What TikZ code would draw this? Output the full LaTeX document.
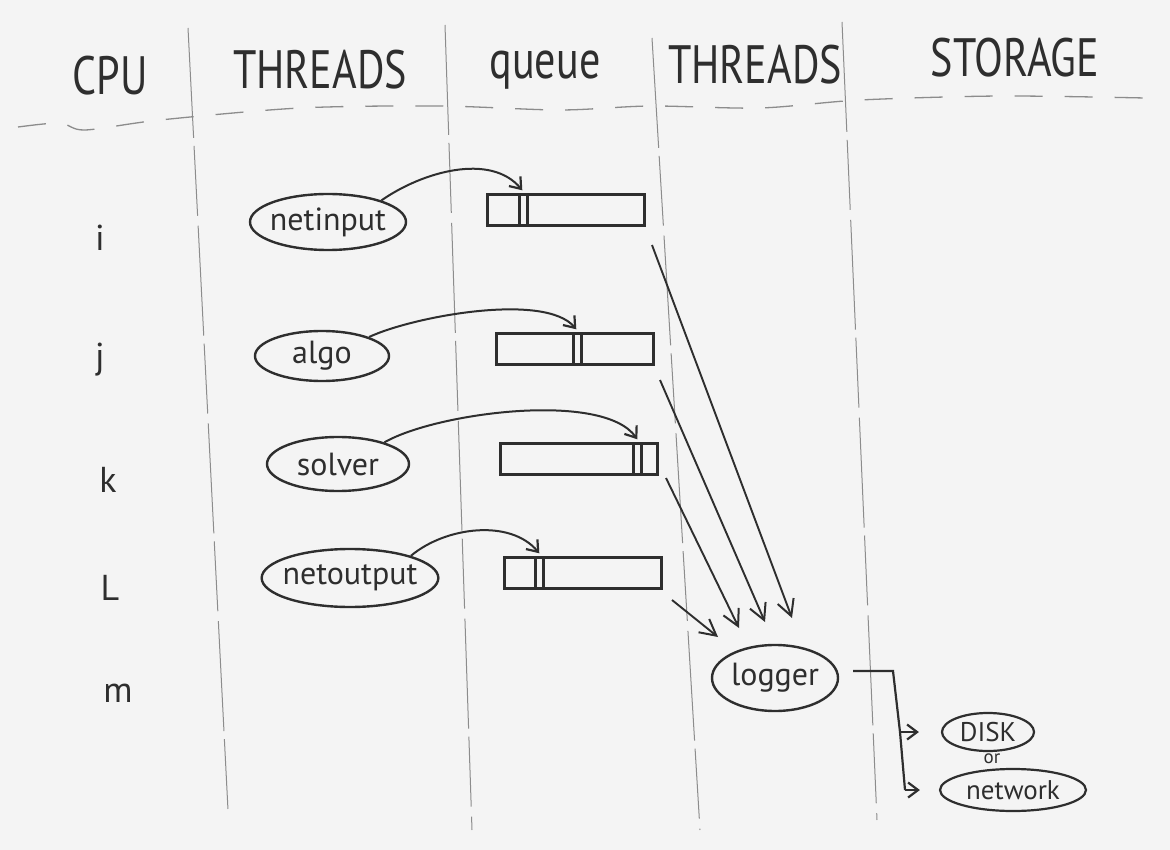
\documentclass[tikz,border=0pt]{standalone}
\usepackage{fontspec}
\setmainfont{PT Sans}
\usetikzlibrary{shapes.geometric,arrows.meta}
\definecolor{paper}{HTML}{F4F4F4}
\definecolor{ink}{HTML}{2E2E2E}
\definecolor{pencil}{HTML}{8C8C8C}
\newcommand{\narrowtxt}[1]{\scalebox{0.78}[1]{#1}}
\begin{document}
\begin{tikzpicture}[x=1pt,y=-1pt,
  every node/.style={text=ink},
  header/.style={font=\fontsize{54}{58}\selectfont},
  rowlabel/.style={font=\fontsize{36}{40}\selectfont},
  thread/.style={ellipse, draw=ink, line width=2.4pt, inner sep=-5pt, font=\fontsize{32}{34}\selectfont},
  storebox/.style={ellipse, draw=ink, line width=2.2pt, inner sep=-4pt, font=\fontsize{27}{29}\selectfont},
  queuebox/.style={rectangle, draw=ink, line width=2.4pt, inner sep=0pt, minimum width=157pt, minimum height=31pt},
  slotmark/.style={draw=ink, line width=2.4pt},
  flow/.style={draw=ink, line width=2pt, looseness=0.7, -{Straight Barb[length=10pt,width=15pt,line width=2.2pt]}},
  bigflow/.style={draw=ink, line width=1.9pt, -{Straight Barb[length=16pt,width=17pt,line width=2pt]}},
  wire/.style={draw=ink, line width=2.2pt},
  colline/.style={draw=pencil, line width=1pt, dash pattern=on 110pt off 8pt on 70pt off 10pt},
  rowline/.style={draw=pencil, line width=1.3pt, dash pattern=on 28pt off 22pt}
]
\fill[paper] (0,0) rectangle (1170,850);
\useasboundingbox (0,0) rectangle (1170,850);

% column separators
\draw[colline] (188,28) -- (228,810);
\draw[colline] (445,25) -- (472,830);
\draw[colline] (652,38) -- (700,830);
\draw[colline] (842,22) -- (877,820);
% header underline
\draw[rowline] plot[smooth] coordinates {(18,127) (60,123) (85,130) (160,120) (300,108) (440,106) (560,110) (650,106) (760,108) (860,100) (1000,96) (1145,98)};

% headers
\node[header] (hcpu) at (110,76) {\narrowtxt{CPU}};
\node[header] (hthr1) at (320,70) {\narrowtxt{THREADS}};
\node[header] (hq) at (545,70) {\narrowtxt{queue}};
\node[header] (hthr2) at (755,65) {\narrowtxt{THREADS}};
\node[header] (hsto) at (1015,58) {\narrowtxt{STORAGE}};

% row labels
\node[rowlabel] (ri) at (100,238) {i};
\node[rowlabel] (rj) at (100,360) {j};
\node[rowlabel] (rk) at (108,480) {k};
\node[rowlabel] (rl) at (110,588) {L};
\node[rowlabel] (rm) at (118,693) {m};

% threads
\node[thread, minimum width=156pt, minimum height=56pt] (t1) at (328,222) {netinput};
\node[thread, minimum width=134pt, minimum height=50pt] (t2) at (322,356) {algo};
\node[thread, minimum width=142pt, minimum height=54pt] (t3) at (338,464) {solver};
\node[thread, minimum width=170pt, minimum height=58pt] (t4) at (350,578) {netoutput};
\node[thread, minimum width=126pt, minimum height=66pt] (logger) at (775,678) {logger};

% queues
\node[queuebox] (q1) at (566,210) {};
\node[queuebox] (q2) at (575,349) {};
\node[queuebox] (q3) at (579,459) {};
\node[queuebox] (q4) at (583,573) {};
\draw[slotmark] ([xshift=33pt]q1.north west) -- ([xshift=33pt]q1.south west);
\draw[slotmark] ([xshift=41pt]q1.north west) -- ([xshift=41pt]q1.south west);
\draw[slotmark] ([xshift=78pt]q2.north west) -- ([xshift=78pt]q2.south west);
\draw[slotmark] ([xshift=86pt]q2.north west) -- ([xshift=86pt]q2.south west);
\draw[slotmark] ([xshift=134pt]q3.north west) -- ([xshift=134pt]q3.south west);
\draw[slotmark] ([xshift=142pt]q3.north west) -- ([xshift=142pt]q3.south west);
\draw[slotmark] ([xshift=32pt]q4.north west) -- ([xshift=32pt]q4.south west);
\draw[slotmark] ([xshift=40pt]q4.north west) -- ([xshift=40pt]q4.south west);
\coordinate (m1) at ([xshift=36pt,yshift=3pt]q1.north west);
\coordinate (m2) at ([xshift=81pt,yshift=3pt]q2.north west);
\coordinate (m3) at ([xshift=138pt,yshift=3pt]q3.north west);
\coordinate (m4) at ([xshift=36pt,yshift=3pt]q4.north west);

% thread -> queue
\draw[flow, looseness=0.9] (t1.22) to[out=35,in=130] (m1);
\draw[flow, looseness=0.6] (t2.22) to[out=25,in=130] (m2);
\draw[flow, looseness=0.6] (t3.25) to[out=30,in=125] (m3);
\draw[flow, looseness=0.9] (t4.20) to[out=40,in=130] (m4);

% queue -> logger
\coordinate (s1) at (652,245);
\coordinate (s2) at (660,380);
\coordinate (s3) at (666,478);
\coordinate (s4) at (672,600);
\coordinate (e1) at (792,618);
\coordinate (e2) at (765,622);
\coordinate (e3) at (739,628);
\coordinate (e4) at (718,637);
\draw[bigflow] (s1) -- (e1);
\draw[bigflow] (s2) -- (e2);
\draw[bigflow] (s3) -- (e3);
\draw[bigflow] (s4) -- (e4);

% storage
\node[storebox, minimum width=92pt, minimum height=38pt] (disk) at (988,732) {DISK};
\node[font=\fontsize{19}{21}\selectfont] (or) at (992,759) {or};
\node[storebox, minimum width=146pt, minimum height=42pt] (net) at (1013,790) {network};
\coordinate (b1) at (893,671);
\coordinate (b2) at (900,732);
\coordinate (b3) at (905,790);
\draw[wire, shorten <=14pt] ([yshift=7pt]logger.east) -- (b1) -- (b2) -- (b3);
\draw[flow, shorten >=22pt] (b2) -- (disk.west);
\draw[flow, shorten >=19pt] (b3) -- (net.west);
\end{tikzpicture}
\end{document}
